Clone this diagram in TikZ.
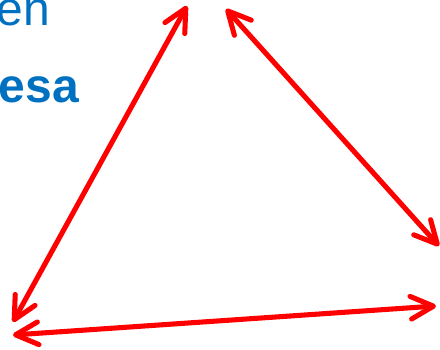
\documentclass[tikz,border=0pt]{standalone}
\usepackage{fontspec}
\setmainfont{Liberation Sans}
\usepackage{tikz}
\usetikzlibrary{arrows.meta}

\definecolor{titleBlue}{HTML}{0070C0}

\begin{document}
\begin{tikzpicture}[
      x=0.75pt, y=-0.75pt,
      >={Straight Barb[length=17pt,width=17pt,line cap=round,line join=round]},
      titleText/.style={text=titleBlue, font=\fontsize{36}{40}\selectfont, inner sep=0pt},
      titleBold/.style={titleText, font=\fontsize{36}{40}\selectfont\bfseries},
      linkArrow/.style={<->, draw=red, line width=3.8pt, line cap=round}
    ]

      % ---------- Khung ----------
      \useasboundingbox (0,0) rectangle (440,350);
      \clip (0,0) rectangle (440,350);

      % ---------- Chu ----------
      \node[titleText, anchor=base east] (wordEn) at (50,25) {en};
      \node[titleBold, anchor=base east] (wordEsa) at (79,102) {esa};

      % ---------- Dinh tam giac ----------
      \coordinate (topLeft) at (187,6);
      \coordinate (topRight) at (226,9);
      \coordinate (sideLeft) at (13,322);
      \coordinate (sideRight) at (439,246);
      \coordinate (baseLeft) at (13,335);
      \coordinate (baseRight) at (436,306);

      % ---------- Mui ten ----------
      \draw[linkArrow] (sideLeft) -- (topLeft);
      \draw[linkArrow] (topRight) -- (sideRight);
      \draw[linkArrow] (baseLeft) -- (baseRight);

    \end{tikzpicture}
\end{document}
